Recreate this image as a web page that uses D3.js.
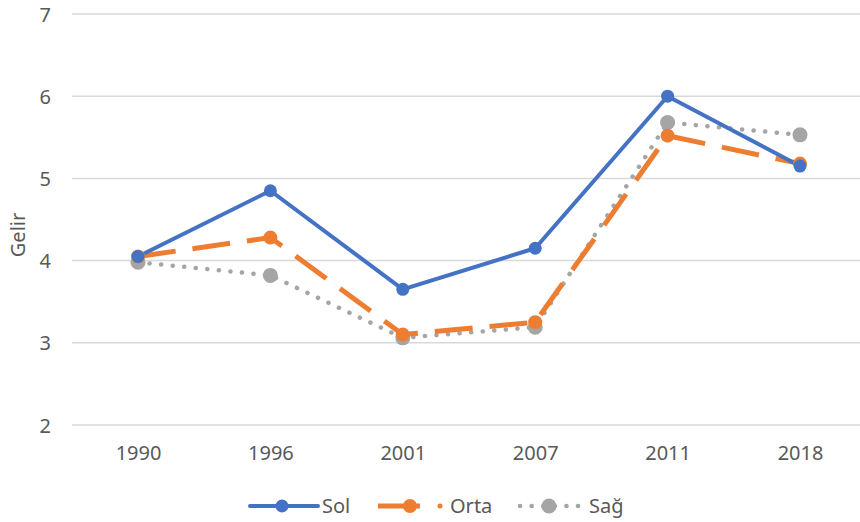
<!DOCTYPE html>
<html><head><meta charset="utf-8">
<script src="https://cdn.jsdelivr.net/npm/d3@7/dist/d3.min.js"></script>
<style>body{margin:0;background:#fff}svg{display:block}text{font-family:"Noto Sans",sans-serif;fill:#595959}</style>
</head><body><svg id="c" width="860" height="522"></svg>
<script>
const years = ["1990","1996","2001","2007","2011","2018"];
const sol  = [4.05, 4.85, 3.65, 4.15, 6.00, 5.15];
const orta = [4.05, 4.28, 3.10, 3.25, 5.52, 5.18];
const sag  = [3.98, 3.82, 3.06, 3.19, 5.68, 5.53];
const yTicks = [2,3,4,5,6,7];
const seriesNames = ["Sol","Orta","Sağ"];

const svg = d3.select("#c");
const x = d3.scalePoint().domain(years).range([138, 800]);
const y = d3.scaleLinear().domain([2,7]).range([425, 14]);
const FS = 20;

const gridG = svg.append("g");
gridG.selectAll("line").data(yTicks).join("line")
  .attr("x1",72).attr("x2",860).attr("y1",d=>y(d)).attr("y2",d=>y(d))
  .attr("stroke","#d9d9d9").attr("stroke-width",1.5);

const yAxis = d3.axisLeft(y).tickValues(yTicks).tickFormat(d3.format("d")).tickSize(0).tickPadding(0);
const ya = svg.append("g").attr("transform","translate(51,0)").call(yAxis);
ya.select(".domain").remove();
ya.selectAll("text").attr("font-size",FS).style("font-family","Noto Sans").attr("fill","#595959").attr("dy","0.35em");

const xAxis = d3.axisBottom(x).tickSize(0).tickPadding(0);
const xa = svg.append("g").attr("transform","translate(0,446)").call(xAxis);
xa.select(".domain").remove();
xa.selectAll("text").attr("font-size",FS).style("font-family","Noto Sans").attr("fill","#595959").attr("dy","0.71em");

svg.append("text").attr("transform","translate(25,235) rotate(-90)")
  .attr("text-anchor","middle").attr("font-size",FS).text("Gelir");

const styles = [
  {c:"#4472C4", w:4, dash:null, cap:"round", r:6.5},
  {c:"#ED7D31", w:5, dash:"38,17", cap:"butt", r:7},
  {c:"#A5A5A5", w:4.5, dash:"0.1,11.5", cap:"round", r:7.5}
];
const data = [sol, orta, sag];
const line = d3.line().x((d,i)=>x(years[i])).y(d=>y(d));

[2,1,0].forEach(k=>{
  const s = styles[k];
  svg.append("path").datum(data[k]).attr("d",line)
    .attr("fill","none").attr("stroke",s.c).attr("stroke-width",s.w)
    .attr("stroke-linecap",s.cap).attr("stroke-linejoin","round")
    .attr("stroke-dasharray",s.dash);
});
[2,1,0].forEach(k=>{
  const s = styles[k];
  svg.append("g").selectAll("circle").data(data[k]).join("circle")
    .attr("cx",(d,i)=>x(years[i])).attr("cy",d=>y(d)).attr("r",s.r).attr("fill",s.c);
});

// legend
const ly = 506;
const leg = [
  {x1:250,x2:318,mx:282,tx:322},
  {x1:378,x2:420,mx:410,tx:450},
  {x1:520,x2:580,mx:549,tx:589}
];
leg.forEach((L,k)=>{
  const s = styles[k];
  const g = svg.append("g");
  if(k===1){
    g.append("line").attr("x1",L.x1).attr("x2",L.x2).attr("y1",ly).attr("y2",ly)
     .attr("stroke",s.c).attr("stroke-width",s.w);
    g.append("circle").attr("cx",440).attr("cy",ly).attr("r",2.5).attr("fill",s.c);
  } else {
    g.append("line").attr("x1",L.x1).attr("x2",L.x2).attr("y1",ly).attr("y2",ly)
     .attr("stroke",s.c).attr("stroke-width",s.w).attr("stroke-linecap",s.cap)
     .attr("stroke-dasharray",k===2?"0.1,11.5":null);
  }
  g.append("circle").attr("cx",L.mx).attr("cy",ly).attr("r",s.r).attr("fill",s.c);
  g.append("text").attr("x",L.tx).attr("y",ly).attr("dy","0.35em").attr("font-size",FS).text(seriesNames[k]);
});
</script></body></html>
